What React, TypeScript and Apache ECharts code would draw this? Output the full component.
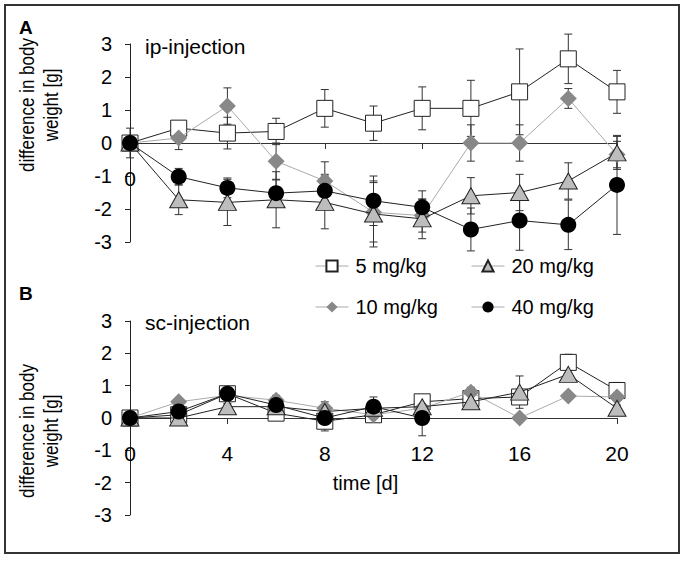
import React, { useEffect, useRef } from "react";
import * as echarts from "echarts";

// ---------- data ----------
const days = [0, 2, 4, 6, 8, 10, 12, 14, 16, 18, 20];
const doseNames = ["5 mg/kg", "10 mg/kg", "20 mg/kg", "40 mg/kg"];
const yTicks = [-3, -2, -1, 0, 1, 2, 3];

// A: ip-injection (mean, SD)
const ip5 = [0, 0.45, 0.3, 0.35, 1.05, 0.6, 1.05, 1.05, 1.55, 2.55, 1.55];
const ip5Sd = [0.45, 0.2, 0.48, 0.4, 0.57, 0.52, 0.65, 0.85, 1.3, 0.75, 0.65];
const ip10 = [0, 0.15, 1.12, -0.55, -1.15, -2.1, -2.2, 0, 0, 1.35, -0.35];
const ip10Sd = [0.1, 0.35, 0.55, 0.55, 0.58, 0.9, 0.5, 0.55, 0.55, 0.3, 0.4];
const ip20 = [0, -1.72, -1.8, -1.72, -1.8, -2.15, -2.3, -1.6, -1.5, -1.15, -0.3];
const ip20Sd = [0.1, 0.45, 0.7, 0.85, 0.8, 1.0, 0.6, 0.55, 0.55, 0.55, 0.5];
const ip40 = [0, -1.02, -1.36, -1.52, -1.45, -1.75, -1.95, -2.62, -2.35, -2.48, -1.27];
const ip40Sd = [0.1, 0.25, 0.3, 0.4, 0.5, 0.75, 0.5, 0.65, 0.9, 0.75, 1.5];

// B: sc-injection (mean, SD)
const sc5 = [0, 0.1, 0.75, 0.15, -0.1, 0.1, 0.5, 0.6, 0.65, 1.72, 0.85];
const sc5Sd = [0.1, 0.1, 0.1, 0.15, 0.3, 0.1, 0.2, 0.2, 0.2, 0.25, 0.25];
const sc10 = [0, 0.5, 0.7, 0.55, 0.3, 0.1, 0.3, 0.8, 0, 0.68, 0.65];
const sc10Sd = [0.05, 0.1, 0.1, 0.15, 0.2, 0.1, 0.1, 0.15, 0.1, 0.1, 0.1];
const sc20 = [0, 0, 0.35, 0.35, 0.2, 0.3, 0.35, 0.5, 0.8, 1.35, 0.3];
const sc20Sd = [0.05, 0.1, 0.1, 0.1, 0.15, 0.1, 0.1, 0.2, 0.5, 0.2, 0.1];
const sc40 = [0, 0.2, 0.75, 0.4, 0, 0.35, 0, null, null, null, null];
const sc40Sd = [0.05, 0.1, 0.1, 0.15, 0.1, 0.3, 0.55, null, null, null, null];

const FONT = "'Liberation Sans', Arial, sans-serif";

type Style = {
  symbol: string;
  size: number | number[];
  fill: string;
  border: string;
  borderWidth: number;
  line: string;
};
const styles: Style[] = [
  { symbol: "rect", size: 16, fill: "#ffffff", border: "#222", borderWidth: 1, line: "#222" },
  { symbol: "diamond", size: 17, fill: "#888888", border: "#888888", borderWidth: 0, line: "#aaaaaa" },
  { symbol: "triangle", size: [18, 16], fill: "#bdbdbd", border: "#222", borderWidth: 1, line: "#222" },
  { symbol: "circle", size: 16, fill: "#000000", border: "#000000", borderWidth: 0, line: "#222" },
];

function pairs(vals: (number | null)[]) {
  return days.map((d, i) => (vals[i] == null ? [d, null] : [d, vals[i]]));
}
function errData(vals: (number | null)[], sd: (number | null)[]) {
  const out: number[][] = [];
  days.forEach((d, i) => {
    if (vals[i] != null && sd[i] != null) out.push([d, vals[i] as number, sd[i] as number]);
  });
  return out;
}

function errorSeries(idx: number, vals: (number | null)[], sd: (number | null)[]) {
  return {
    type: "custom",
    xAxisIndex: idx,
    yAxisIndex: idx,
    z: 1,
    silent: true,
    encode: { x: 0, y: 1 },
    data: errData(vals, sd),
    renderItem: (params: any, api: any) => {
      const x = api.value(0);
      const m = api.value(1);
      const s = api.value(2);
      const t = api.coord([x, m + s]);
      const b = api.coord([x, m - s]);
      const hw = 4;
      const st = { stroke: "#333", lineWidth: 1 };
      return {
        type: "group",
        children: [
          { type: "line", shape: { x1: t[0], y1: t[1], x2: b[0], y2: b[1] }, style: st },
          { type: "line", shape: { x1: t[0] - hw, y1: t[1], x2: t[0] + hw, y2: t[1] }, style: st },
          { type: "line", shape: { x1: b[0] - hw, y1: b[1], x2: b[0] + hw, y2: b[1] }, style: st },
        ],
      };
    },
  };
}

function lineSeries(idx: number, k: number, vals: (number | null)[]) {
  const s = styles[k];
  return {
    type: "line",
    name: doseNames[k],
    xAxisIndex: idx,
    yAxisIndex: idx,
    z: 2 + k,
    data: pairs(vals),
    symbol: s.symbol,
    symbolSize: s.size,
    showSymbol: true,
    lineStyle: { color: s.line, width: 1 },
    itemStyle: { color: s.fill, borderColor: s.border, borderWidth: s.borderWidth, opacity: 1 },
    emphasis: { disabled: true },
  };
}

export default function App() {
  const ref = useRef<HTMLDivElement>(null);
  useEffect(() => {
    if (!ref.current) return;
    const chart = echarts.init(ref.current, undefined, { renderer: "svg" });

    const panels = [
      { top: 44, height: 198 },
      { top: 321, height: 194 },
    ];

    const xAxes = panels.map((p, i) => ({
      type: "value",
      gridIndex: i,
      position: "bottom",
      offset: -p.height / 2,
      min: 0,
      max: 20,
      interval: 4,
      axisLine: { show: true, onZero: false, lineStyle: { color: "#333", width: 1 } },
      axisTick: { show: true, length: 6, lineStyle: { color: "#333" } },
      splitLine: { show: false },
      axisLabel: {
        show: true,
        margin: 25,
        fontSize: 21,
        color: "#000",
        fontFamily: FONT,
        formatter: (v: number) => (i === 0 ? (v === 0 ? "0" : "") : String(v)),
      },
      name: i === 1 ? "time [d]" : "",
      nameLocation: "middle",
      nameGap: 55,
      nameTextStyle: { fontSize: 20, color: "#000", fontFamily: FONT, padding: [0, 16, 0, 0] },
    }));

    const yAxes = panels.map((p, i) => ({
      type: "value",
      gridIndex: i,
      min: yTicks[0],
      max: yTicks[yTicks.length - 1],
      interval: 1,
      axisLine: { show: true, onZero: false, lineStyle: { color: "#222", width: 1 } },
      axisTick: { show: true, length: 5, lineStyle: { color: "#222" } },
      splitLine: { show: false },
      axisLabel: { margin: 18, fontSize: 20, color: "#000", fontFamily: FONT },
    }));

    const ipSets = [[ip5, ip5Sd], [ip10, ip10Sd], [ip20, ip20Sd], [ip40, ip40Sd]];
    const scSets = [[sc5, sc5Sd], [sc10, sc10Sd], [sc20, sc20Sd], [sc40, sc40Sd]];

    const series: any[] = [];
    [ipSets, scSets].forEach((sets, idx) => {
      sets.forEach((s) => series.push(errorSeries(idx, s[0] as any, s[1] as any)));
      sets.forEach((s, k) => series.push(lineSeries(idx, k, s[0] as any)));
    });

    const legendPos = [
      { name: "5 mg/kg", left: 315, top: 256 },
      { name: "20 mg/kg", left: 471, top: 256 },
      { name: "10 mg/kg", left: 315, top: 297 },
      { name: "40 mg/kg", left: 471, top: 297 },
    ];
    const legends = legendPos.map((l) => ({
      data: [l.name],
      left: l.left,
      top: l.top,
      padding: 0,
      itemWidth: 33,
      itemHeight: 14,
      itemGap: 0,
      selectedMode: false,
      lineStyle: { color: "#aaa", width: 1 },
      textStyle: { fontSize: 20, color: "#000", fontFamily: FONT, padding: [0, 0, 0, 2] },
    }));

    const yName = "difference in body\nweight [g]";
    const yNameStyle = {
      text: yName,
      fontSize: 17,
      lineHeight: 20,
      fill: "#000",
      fontFamily: FONT,
      align: "center",
      verticalAlign: "middle",
    };
    chart.setOption({
      animation: false,
      backgroundColor: "#fff",
      grid: panels.map((p) => ({ left: 130, width: 487, top: p.top, height: p.height })),
      xAxis: xAxes,
      yAxis: yAxes,
      legend: legends,
      series,
      graphic: [
        {
          type: "rect",
          shape: { x: 5, y: 5, width: 674, height: 548 },
          style: { fill: "none", stroke: "#333", lineWidth: 2 },
          z: 0,
        },
        { type: "text", left: 19, top: 18, style: { text: "A", fontSize: 19, fontWeight: "bold", fill: "#000", fontFamily: FONT } },
        { type: "text", left: 19, top: 284, style: { text: "B", fontSize: 19, fontWeight: "bold", fill: "#000", fontFamily: FONT } },
        { type: "text", left: 145, top: 36, style: { text: "ip-injection", fontSize: 21, fill: "#000", fontFamily: FONT } },
        { type: "text", left: 145, top: 312, style: { text: "sc-injection", fontSize: 21, fill: "#000", fontFamily: FONT } },
        { type: "text", x: 39, y: 105, rotation: Math.PI / 2, scaleY: 1.2, style: yNameStyle },
        { type: "text", x: 39, y: 431, rotation: Math.PI / 2, scaleY: 1.2, style: yNameStyle },
      ],
    });
    return () => chart.dispose();
  }, []);
  return (
    <div
      ref={ref}
      style={{ position: "absolute", left: 0, top: 0, width: 685, height: 562 }}
    />
  );
}
